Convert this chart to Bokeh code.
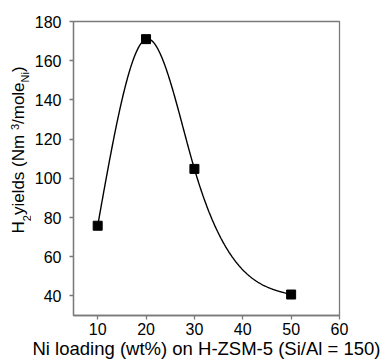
import numpy as np
from bokeh.plotting import figure
from bokeh.layouts import row
from bokeh.models import FixedTicker
from bokeh.core.properties import value
from bokeh.embed import file_html
from bokeh.resources import INLINE

# ---- data ----
ni_loading = [10, 20, 30, 50]
h2_yield = [75.8, 171.0, 104.8, 40.7]
x_ticks = [10, 20, 30, 40, 50, 60]
y_ticks = [40, 60, 80, 100, 120, 140, 160, 180]
x_title = "Ni loading (wt%) on H-ZSM-5 (Si/Al = 150)"
y_title_parts = ["H", "2", " yields (Nm", "3", "/mole", "Ni", ")"]
y_title_kind = ["main", "sub", "main", "sup", "main", "sub", "main"]

FONT = "Liberation Sans"
AXIS_COL = "#7a7a7a"
Y0, Y1 = 30, 180


def natural_spline(x, y, xs):
    x = np.asarray(x, float); y = np.asarray(y, float)
    n = len(x); h = np.diff(x)
    A = np.zeros((n, n)); r = np.zeros(n)
    A[0, 0] = 1; A[-1, -1] = 1
    for i in range(1, n - 1):
        A[i, i - 1] = h[i - 1]; A[i, i] = 2 * (h[i - 1] + h[i]); A[i, i + 1] = h[i]
        r[i] = 6 * ((y[i + 1] - y[i]) / h[i] - (y[i] - y[i - 1]) / h[i - 1])
    M = np.linalg.solve(A, r)
    out = np.empty_like(xs)
    for j, xv in enumerate(xs):
        k = int(np.clip(np.searchsorted(x, xv, side="right") - 1, 0, n - 2))
        a = x[k + 1] - xv; b = xv - x[k]
        out[j] = (M[k] * a**3 + M[k + 1] * b**3) / (6 * h[k]) \
            + (y[k] / h[k] - M[k] * h[k] / 6) * a + (y[k + 1] / h[k] - M[k + 1] * h[k] / 6) * b
    return out


xs = np.linspace(ni_loading[0], ni_loading[-1], 400)
ys = natural_spline(ni_loading, h2_yield, xs)

LW = 31  # width of the y-title strip

# ---- main plot ----
p = figure(width=385 - LW, height=361, x_range=(5, 60), y_range=(Y0, Y1),
           output_backend="svg", toolbar_location=None,
           min_border_left=73 - LW, min_border_right=46, min_border_top=21, min_border_bottom=46)
p.background_fill_color = "white"
p.border_fill_color = "white"
p.xgrid.visible = False
p.ygrid.visible = False
p.outline_line_color = AXIS_COL
p.outline_line_width = 1.3

for ax in (p.xaxis[0], p.yaxis[0]):
    ax.axis_line_color = AXIS_COL
    ax.axis_line_width = 1.3
    ax.major_tick_line_color = AXIS_COL
    ax.major_tick_line_width = 1.3
    ax.major_tick_in = 0
    ax.major_tick_out = 4
    ax.minor_tick_line_color = None
    ax.major_label_text_font = FONT
    ax.major_label_text_font_size = "16px"
    ax.major_label_text_color = "black"
p.xaxis[0].ticker = FixedTicker(ticks=x_ticks)
p.yaxis[0].ticker = FixedTicker(ticks=y_ticks)
p.xaxis[0].major_label_standoff = 3
p.yaxis[0].major_label_standoff = 8

p.xaxis[0].axis_label = x_title
p.xaxis[0].axis_label_text_font = FONT
p.xaxis[0].axis_label_text_font_size = "18.5px"
p.xaxis[0].axis_label_text_font_style = "normal"
p.xaxis[0].axis_label_text_color = "black"
p.xaxis[0].axis_label_standoff = 0

p.line(xs, ys, line_color="black", line_width=1.4)
p.scatter(ni_loading, h2_yield, marker="square", size=9, fill_color="black", line_color="black")

# ---- y title strip (rich text: subscripts / superscript) ----
# the strip's frame is aligned with the main frame (about 294 px tall), so it shares its y range
W = {"H": 722, "2": 556, " ": 278, "y": 500, "i": 222, "e": 556, "l": 222, "d": 556,
     "s": 500, "(": 333, "N": 722, "m": 833, "3": 556, "/": 278, "o": 556, ")": 333}
F, S = 17.0, 11.0
DESC = 0.212
FRAME_H = 294.0
PX = (Y1 - Y0) / FRAME_H          # data units per pixel on the shared y range
size_of = {"main": F, "sub": S, "sup": S}
shift_of = {"main": 0.0, "sub": 5.0, "sup": -7.0}
base_x = 23.5
pos = Y0 + (315 - 233) * PX       # start of "H" (canvas y = 233)

yl = figure(width=LW, height=361, x_range=(0, LW), y_range=p.y_range,
            output_backend="svg", toolbar_location=None,
            x_axis_type=None, y_axis_type=None, min_border=0)
yl.outline_line_color = None
yl.xgrid.visible = False
yl.ygrid.visible = False
for txt, kind in zip(y_title_parts, y_title_kind):
    size = size_of[kind]
    yl.text(x=[base_x + shift_of[kind] + DESC * size], y=[pos], text=[txt], angle=np.pi / 2,
            text_font=value(FONT), text_font_size=f"{int(size)}px", text_color="black")
    pos += sum(W[c] for c in txt) / 1000.0 * size * PX

layout = row(yl, p)
open("out.html", "w").write(file_html(layout, INLINE))
